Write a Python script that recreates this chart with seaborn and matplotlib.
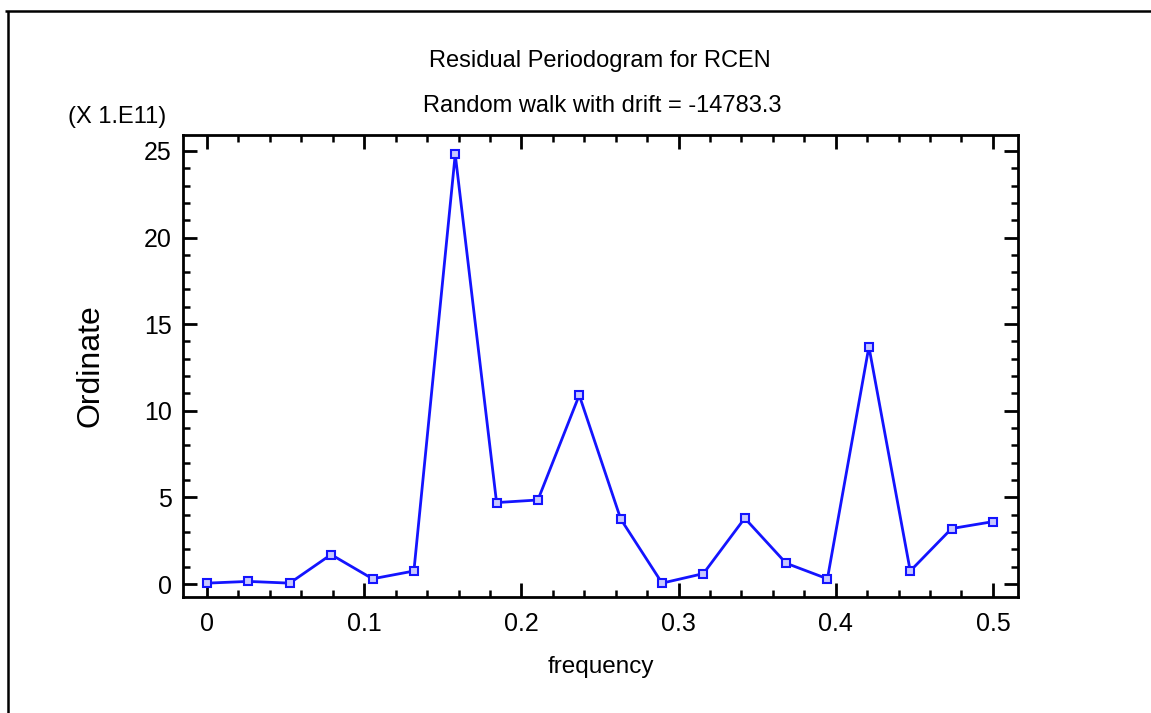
import numpy as np
import pandas as pd
import matplotlib
matplotlib.use("Agg")
import matplotlib.pyplot as plt
from matplotlib.lines import Line2D
from matplotlib.ticker import MultipleLocator
import seaborn as sns

# ---- data (ordinate in units of 1e11) ----
frequency = [0.0, 0.0263, 0.0526, 0.0789, 0.1053, 0.1316, 0.1579, 0.1842, 0.2105, 0.2368,
             0.2632, 0.2895, 0.3158, 0.3421, 0.3684, 0.3947, 0.4211, 0.4474, 0.4737, 0.5]
ordinate = [0.05, 0.15, 0.05, 1.7, 0.3, 0.75, 24.8, 4.7, 4.85, 10.9,
            3.75, 0.05, 0.6, 3.8, 1.2, 0.3, 13.7, 0.75, 3.2, 3.6]
x_ticks = [0, 0.1, 0.2, 0.3, 0.4, 0.5]
x_tick_labels = ["0", "0.1", "0.2", "0.3", "0.4", "0.5"]
y_ticks = [0, 5, 10, 15, 20, 25]
y_tick_labels = ["0", "5", "10", "15", "20", "25"]
title_line1 = "Residual Periodogram for RCEN"
title_line2 = "Random walk with drift = -14783.3"
scale_label = "(X 1.E11)"

df = pd.DataFrame({"frequency": frequency, "Ordinate": ordinate})

sns.set_theme(style="white")
plt.rcParams["font.family"] = ["Liberation Sans", "DejaVu Sans"]
plt.rcParams["text.color"] = "black"
plt.rcParams["axes.labelcolor"] = "black"
plt.rcParams["xtick.color"] = "black"
plt.rcParams["ytick.color"] = "black"

fig = plt.figure(figsize=(11.51, 7.13), dpi=100)
ax = fig.add_axes([0.159, 0.1627, 0.7255, 0.648])

sns.lineplot(data=df, x="frequency", y="Ordinate", ax=ax, color="#1414ff",
             linewidth=2.0, marker="s", markersize=5.5, markerfacecolor="#c8c8ff",
             markeredgecolor="#1414ff", markeredgewidth=1.5)

ax.set_xlim(-0.0153, 0.516)
ax.set_ylim(-0.75, 25.92)
ax.set_xticks(x_ticks)
ax.set_xticklabels(x_tick_labels)
ax.set_yticks(y_ticks)
ax.set_yticklabels(y_tick_labels)
ax.xaxis.set_minor_locator(MultipleLocator(0.02))
ax.yaxis.set_minor_locator(MultipleLocator(1))

for s in ax.spines.values():
    s.set_visible(True)
    s.set_color("black")
    s.set_linewidth(2.0)

ax.tick_params(which="major", direction="in", length=10, width=2, colors="black",
               top=True, right=True, bottom=True, left=True, labelsize=18, pad=8)
ax.tick_params(which="minor", direction="in", length=5, width=1.8, colors="black",
               top=True, right=True, bottom=True, left=True)
ax.tick_params(axis="x", which="major", pad=11)

ax.set_xlabel("frequency", fontsize=17.5, labelpad=14, color="black")
ax.set_ylabel("Ordinate", fontsize=23, labelpad=28, color="black")

fig.text(0.521, 0.914, title_line1, ha="center", va="center", fontsize=17, color="black")
fig.text(0.523, 0.852, title_line2, ha="center", va="center", fontsize=17, color="black")
fig.text(0.102, 0.836, scale_label, ha="center", va="center", fontsize=17, color="black")

# outer frame lines (top and left)
fig.add_artist(Line2D([0.004, 1.0], [0.985, 0.985], transform=fig.transFigure,
                      color="black", linewidth=1.8, solid_capstyle="butt"))
fig.add_artist(Line2D([0.007, 0.007], [0.0, 0.985], transform=fig.transFigure,
                      color="black", linewidth=1.8, solid_capstyle="butt"))

fig.savefig("out.png", dpi=100)
